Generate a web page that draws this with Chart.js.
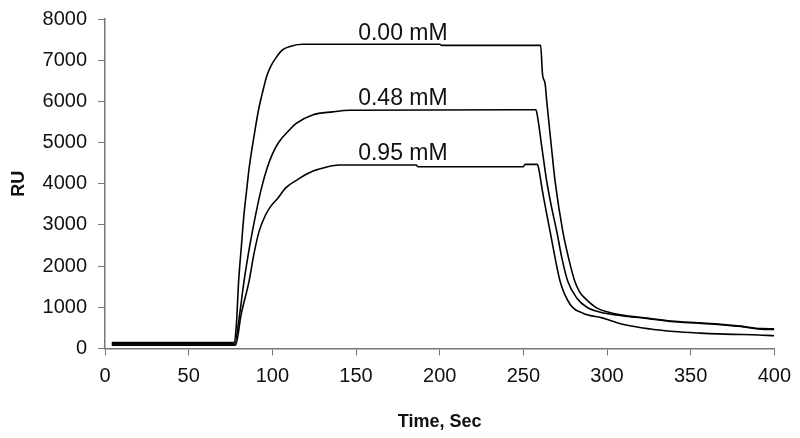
<!DOCTYPE html>
<html>
<head>
<meta charset="utf-8">
<script src="https://cdn.jsdelivr.net/npm/chart.js@4.4.1/dist/chart.umd.min.js"></script>
<style>
  html, body { margin: 0; padding: 0; background: #fff; }
  #wrap { width: 800px; height: 438px; }
</style>
</head>
<body>
<div id="wrap"><canvas id="c"></canvas></div>
<script>
var xTicks = [0, 50, 100, 150, 200, 250, 300, 350, 400];
var yTicks = [0, 1000, 2000, 3000, 4000, 5000, 6000, 7000, 8000];

// 0.00 mM
var t000 = [4, 77, 78.5, 79.8, 81.5, 83, 84.5, 86, 88, 90, 92, 94, 96.5, 99, 102, 106, 112, 118, 200, 201, 260.3, 261.5, 263, 264, 266.5, 269, 273.6, 277, 280.8, 283.5, 286.8, 294, 300, 308, 325, 338, 355, 368, 380, 392, 400];
var ru000 = [140, 140, 600, 1620, 2500, 3250, 3800, 4350, 4900, 5400, 5850, 6200, 6600, 6850, 7050, 7248, 7350, 7387, 7387, 7360, 7360, 6640, 6430, 5990, 5000, 4048, 2836, 2200, 1624, 1380, 1220, 977, 890, 815, 730, 665, 620, 585, 540, 480, 475];

// 0.48 mM
var t048 = [4, 77.5, 80, 83, 86.5, 90, 93.5, 97, 100, 104, 110, 114, 124, 136, 146, 257.5, 258.3, 261, 264, 267, 270, 273, 276.6, 282, 288, 296, 308, 325, 338, 355, 368, 380, 392, 400];
var ru048 = [110, 110, 700, 1620, 2500, 3250, 3900, 4400, 4720, 5018, 5300, 5460, 5670, 5745, 5785, 5795, 5670, 4900, 4048, 3400, 2836, 2200, 1624, 1220, 1000, 880, 800, 720, 655, 610, 575, 530, 468, 460];

// 0.95 mM
var t095 = [4, 78, 81.3, 86, 89, 92, 96, 99, 103, 108, 115, 124, 132, 140, 186, 187, 250, 251, 258.3, 259.3, 261.5, 266, 272, 278, 285.6, 297.6, 310, 326, 340, 355.7, 375, 387, 400];
var ru095 = [80, 80, 820, 1620, 2300, 2836, 3250, 3450, 3636, 3900, 4100, 4300, 4400, 4453, 4453, 4413, 4413, 4470, 4470, 4340, 3800, 2836, 1624, 1067, 856, 735, 580, 470, 410, 372, 340, 332, 308];

var seriesNames = ["0.00 mM", "0.48 mM", "0.95 mM"];
var labelX = [178, 178, 178];
var labelY = [7640, 6060, 4730];

function toPoints(ts, vs) {
    var pts = [];
    for (var i = 0; i < ts.length; i++) {
        pts.push({x: ts[i], y: vs[i]});
    }
    return pts;
}

var fontFam = "'Liberation Sans', Arial, sans-serif";

var curveLabels = {
    id: 'curveLabels',
    afterDatasetsDraw: function(chart) {
        var ctx = chart.ctx;
        var xs = chart.scales.x, ys = chart.scales.y;
        ctx.save();
        ctx.font = "23px " + fontFam;
        ctx.fillStyle = "#111";
        ctx.textAlign = "center";
        ctx.textBaseline = "middle";
        for (var i = 0; i < seriesNames.length; i++) {
            ctx.fillText(seriesNames[i], xs.getPixelForValue(labelX[i]), ys.getPixelForValue(labelY[i]));
        }
        ctx.restore();
    }
};

function ds(name, ts, vs) {
    return {
        label: name,
        data: toPoints(ts, vs),
        borderColor: "#000",
        borderWidth: 1.6,
        pointRadius: 0,
        cubicInterpolationMode: 'monotone',
        fill: false
    };
}

var ctx = document.getElementById("c").getContext("2d");
new Chart(ctx, {
    type: 'line',
    data: {
        datasets: [
            ds(seriesNames[0], t000, ru000),
            ds(seriesNames[1], t048, ru048),
            ds(seriesNames[2], t095, ru095)
        ]
    },
    options: {
        responsive: true,
        maintainAspectRatio: false,
        animation: false,
        layout: {
            padding: {top: 0, right: 5, left: 4, bottom: 1}
        },
        plugins: {
            legend: {display: false},
            tooltip: {enabled: false}
        },
        scales: {
            x: {
                type: 'linear',
                min: 0,
                max: 400,
                afterBuildTicks: function(axis) {
                    axis.ticks = xTicks.map(function(v) { return {value: v}; });
                },
                grid: {display: true, drawOnChartArea: false, drawTicks: true, tickLength: 7, color: "#777"},
                border: {display: true, color: "#777", width: 1.5},
                ticks: {color: "#111", font: {size: 20, family: fontFam}, padding: 9, maxRotation: 0,
                    callback: function(v) { return String(v); }},
                title: {display: true, text: "Time, Sec", color: "#111", font: {size: 18, weight: 'bold', family: fontFam}, padding: {top: 14}}
            },
            y: {
                min: 0,
                max: 8000,
                afterBuildTicks: function(axis) {
                    axis.ticks = yTicks.map(function(v) { return {value: v}; });
                },
                grid: {display: true, drawOnChartArea: false, drawTicks: true, tickLength: 7, color: "#777"},
                border: {display: true, color: "#777", width: 1.5},
                ticks: {color: "#111", font: {size: 20, family: fontFam, lineHeight: 0.8}, padding: 11,
                    callback: function(v) { return String(v); }},
                title: {display: true, text: "RU", color: "#111", font: {size: 18, weight: 'bold', family: fontFam}, padding: {bottom: 2}}
            }
        }
    },
    plugins: [curveLabels]
});
</script>
</body>
</html>
